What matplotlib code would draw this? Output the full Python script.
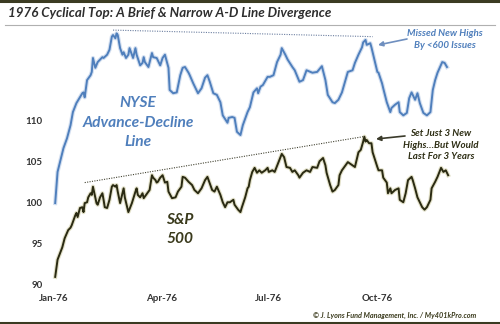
import pandas as pd
import matplotlib
matplotlib.use("Agg")
import matplotlib.pyplot as plt
import matplotlib.patheffects as pe
from matplotlib.lines import Line2D

START = pd.Timestamp("1976-01-01")

# NYSE advance-decline line (days after Jan 1 1976)
ad_days = [1, 3, 8, 11, 14, 16, 19, 24, 25, 26, 28, 31, 32, 33, 35, 37, 41, 42,
           45, 47, 49, 50, 52, 53, 54, 56, 58, 59, 61, 63, 64, 66, 67, 69, 70,
           73, 75, 76, 77, 80, 83, 84, 87, 90, 92, 94, 97, 98, 101, 104, 107,
           109, 111, 114, 115, 118, 122, 125, 128, 130, 132, 135, 138, 141,
           143, 147, 148, 151, 153, 155, 158, 160, 164, 166, 169, 172, 173,
           175, 177, 181, 183, 186, 189, 192, 193, 196, 198, 202, 204, 208,
           211, 214, 219, 223, 227, 230, 232, 236, 238, 241, 244, 247, 249,
           253, 255, 258, 261, 262, 264, 265, 268, 269, 272, 274, 275, 278,
           279, 282, 285, 286, 289, 292, 293, 296, 299, 301, 303, 306, 308,
           310, 313, 316, 319, 321, 323, 325, 329, 331, 333]
ad_values = [99.9, 103.7, 106.6, 107.8, 109.4, 111.0, 112.1, 113.3, 113.4,
             112.8, 114.9, 115.5, 115.9, 117.6, 116.4, 117.1, 117.7, 117.6,
             118.0, 118.6, 120.2, 120.4, 120.0, 120.6, 120.4, 118.8, 118.0,
             118.3, 117.6, 118.0, 118.8, 118.0, 117.6, 118.8, 118.0, 116.7,
             117.0, 117.7, 117.1, 116.5, 118.2, 117.7, 117.6, 116.7, 117.6,
             118.0, 116.4, 113.7, 113.3, 113.4, 115.5, 116.4, 116.5, 115.8,
             115.5, 114.5, 113.3, 113.9, 115.2, 115.5, 114.7, 113.3, 113.1,
             112.2, 110.6, 109.7, 110.3, 110.4, 110.3, 108.6, 108.2, 109.4,
             111.0, 111.6, 113.4, 113.9, 113.3, 114.1, 114.3, 115.3, 115.3,
             115.5, 117.1, 118.0, 118.8, 118.0, 117.4, 116.5, 116.1, 114.7,
             114.9, 116.1, 115.8, 115.9, 116.6, 114.9, 113.1, 112.2, 112.1,
             112.5, 113.4, 114.9, 115.9, 116.1, 117.0, 118.0, 118.9, 119.5,
             119.8, 119.2, 119.4, 118.9, 117.1, 115.9, 115.8, 114.5, 113.9,
             112.2, 111.0, 111.5, 111.9, 112.2, 111.0, 110.6, 110.9, 112.7,
             113.4, 112.5, 113.3, 112.1, 110.9, 110.6, 111.0, 113.7, 114.9,
             115.8, 117.1, 117.0, 116.5]

# S&P 500
spx_days = [1, 3, 7, 9, 12, 14, 15, 16, 18, 19, 20, 22, 24, 25, 26, 28, 29,
            31, 32, 33, 35, 36, 37, 39, 41, 42, 43, 45, 47, 49, 50, 52, 53, 54,
            56, 58, 59, 60, 63, 66, 69, 70, 71, 73, 75, 76, 79, 81, 83, 84, 86,
            87, 88, 90, 92, 94, 96, 97, 100, 103, 105, 108, 109, 111, 114, 117,
            119, 122, 125, 128, 130, 131, 134, 136, 138, 141, 143, 145, 147,
            149, 152, 153, 156, 158, 159, 162, 164, 165, 166, 168, 170, 172,
            174, 176, 179, 181, 182, 185, 187, 190, 192, 193, 195, 197, 200,
            202, 204, 207, 208, 211, 214, 217, 219, 223, 225, 228, 230, 231,
            234, 236, 238, 241, 242, 244, 247, 249, 253, 255, 258, 260, 262,
            263, 264, 265, 267, 269, 270, 274, 275, 278, 279, 282, 283, 285,
            286, 289, 292, 293, 296, 298, 300, 303, 304, 306, 308, 312, 314,
            316, 319, 320, 323, 325, 328, 330, 332, 334]
spx_values = [90.9, 93.0, 94.5, 95.6, 96.6, 96.9, 97.2, 97.6, 98.4, 98.7, 98.2,
              99.3, 99.4, 98.8, 99.9, 100.0, 100.6, 101.1, 100.9, 101.9, 100.6,
              99.9, 99.7, 100.6, 101.1, 100.3, 99.4, 99.3, 100.3, 101.9, 102.1,
              101.9, 102.1, 101.3, 99.9, 101.1, 101.7, 100.6, 98.8, 99.9, 101.3,
              101.7, 100.9, 100.6, 101.1, 100.5, 101.1, 101.5, 103.3, 103.0,
              102.7, 102.4, 102.5, 103.0, 103.3, 102.4, 102.5, 101.3, 100.5,
              100.6, 101.3, 101.9, 103.1, 103.0, 102.5, 102.1, 101.5, 101.1,
              101.7, 102.7, 103.1, 102.7, 101.5, 101.3, 101.9, 100.9, 100.0,
              99.4, 100.0, 100.0, 100.3, 99.7, 99.1, 98.8, 99.3, 100.6, 101.7,
              101.9, 102.7, 103.7, 104.2, 103.6, 103.9, 103.6, 103.9, 104.2,
              103.7, 103.9, 103.7, 104.8, 105.5, 105.9, 105.5, 104.3, 104.2,
              103.7, 103.9, 103.3, 103.0, 103.6, 103.9, 103.7, 104.3, 104.2,
              105.0, 105.4, 104.5, 103.6, 102.1, 101.3, 101.5, 102.1, 103.3,
              103.9, 104.5, 104.9, 104.5, 104.3, 106.1, 106.4, 107.4, 108.0,
              107.4, 107.6, 107.2, 107.2, 106.1, 104.3, 103.9, 103.9, 103.0,
              102.4, 101.1, 101.7, 101.1, 101.5, 101.7, 100.3, 100.0, 101.1,
              102.7, 103.1, 102.7, 101.7, 100.6, 99.4, 99.1, 99.4, 100.3, 101.7,
              102.5, 103.1, 104.2, 103.7, 103.9, 103.3]

# dotted lines joining the highs
ad_trend_days = [50, 270]
ad_trend_values = [121.0, 120.2]
spx_trend_days = [26, 262]
spx_trend_values = [102.4, 108.0]

x_ticks = ["1976-01-01", "1976-04-01", "1976-07-01", "1976-10-01"]
x_tick_labels = ["Jan-76", "Apr-76", "Jul-76", "Oct-76"]
y_ticks = [90, 95, 100, 105, 110]

BLUE = "#4f7fbc"
OLIVE = "#2a2a12"
FONT = ["Lato", "DejaVu Sans"]

W, H = 500, 324


def to_dates(days):
    return START + pd.to_timedelta(days, unit="D")


def fpos(x, y):
    """Pixel position (from top-left) to figure fraction."""
    return x / W, 1 - y / H


fig = plt.figure(figsize=(W / 100, H / 100), dpi=100)
fig.patch.set_facecolor("white")

left, right, top, bottom = 48, 480, 26, 290
ax = fig.add_axes([left / W, 1 - bottom / H, (right - left) / W, (bottom - top) / H])
ax.set_xlim(START + pd.Timedelta(days=-5.1), START + pd.Timedelta(days=361))
ax.set_ylim(89.3, 121.5)
for s in ax.spines.values():
    s.set_visible(False)

ax.plot(to_dates(ad_days), ad_values, color=BLUE, lw=1.4, solid_joinstyle="round",
        path_effects=[pe.Stroke(linewidth=3.0, foreground="#d3dff0"), pe.Normal()])
ax.plot(to_dates(spx_days), spx_values, color=OLIVE, lw=1.4, solid_joinstyle="round",
        path_effects=[pe.Stroke(linewidth=3.0, foreground="#e2e0c8"), pe.Normal()])
ax.plot(to_dates(ad_trend_days), ad_trend_values, color="#6c7fa0", lw=0.8,
        ls=(0, (1, 1.2)), clip_on=False)
ax.plot(to_dates(spx_trend_days), spx_trend_values, color="#444433", lw=0.8,
        ls=(0, (1, 1.2)), clip_on=False)

ax.set_xticks(pd.to_datetime(x_ticks))
ax.set_xticklabels(x_tick_labels)
ax.set_yticks(y_ticks)
ax.tick_params(length=0, labelsize=7, labelcolor="#333333")
ax.tick_params(axis="x", pad=3)
ax.tick_params(axis="y", pad=4)
for lab in ax.get_xticklabels() + ax.get_yticklabels():
    lab.set_fontfamily(FONT)
    lab.set_fontweight("bold")

# frame lines
fig.add_artist(Line2D([0, 1], [1 - 1.2 / H] * 2, color="#3b3b22", lw=2.2))
fig.add_artist(Line2D([0.01, 0.99], [1 - 24.5 / H] * 2, color="#b0b0b0", lw=0.8))
fig.add_artist(Line2D([0, 1], [1.2 / H] * 2, color="#3b3b22", lw=2.2))

fig.text(*fpos(8, 13), "1976 Cyclical Top: A Brief & Narrow A-D Line Divergence",
         family=FONT, weight="bold", style="italic", size=9.6, color="#2e2e2e",
         ha="left", va="center")

for txt, y in [("NYSE", 103), ("Advance-Decline", 123), ("Line", 142)]:
    fig.text(*fpos(138, y), txt, family=FONT, weight="bold", style="italic",
             size=11.2, color=BLUE, ha="center", va="center")
for txt, y in [("S&P", 220), ("500", 239)]:
    fig.text(*fpos(180, y), txt, family=FONT, weight="bold", style="italic",
             size=11.2, color="#3a3a1c", ha="center", va="center")

for txt, y in [("Missed New Highs", 33), ("By <600 Issues", 45)]:
    fig.text(*fpos(445, y), txt, family=FONT, weight="bold", style="italic",
             size=7, color=BLUE, ha="center", va="center")
for txt, y in [("Set Just 3 New", 133), ("Highs\u2026But Would", 145),
               ("Last For 3 Years", 157)]:
    fig.text(*fpos(441, y), txt, family=FONT, weight="bold", style="italic",
             size=7, color="#2e2e14", ha="center", va="center")

ax.annotate("", xy=fpos(378, 45), xytext=fpos(407, 39), xycoords="figure fraction",
            textcoords="figure fraction",
            arrowprops=dict(arrowstyle="-|>", color="#6f8fbf", lw=1.2,
                            mutation_scale=7, shrinkA=0, shrinkB=0))
ax.annotate("", xy=fpos(376, 139), xytext=fpos(405, 136), xycoords="figure fraction",
            textcoords="figure fraction",
            arrowprops=dict(arrowstyle="-|>", color="#3a3a2a", lw=1.2,
                            mutation_scale=7, shrinkA=0, shrinkB=0))

fig.text(*fpos(476, 315), "\u00a9 J. Lyons Fund Management, Inc. / My401kPro.com",
         family=FONT, weight="bold", style="italic", size=5.2, color="#3a3a1c",
         ha="right", va="center")

fig.savefig("out.png", dpi=100, facecolor="white")
